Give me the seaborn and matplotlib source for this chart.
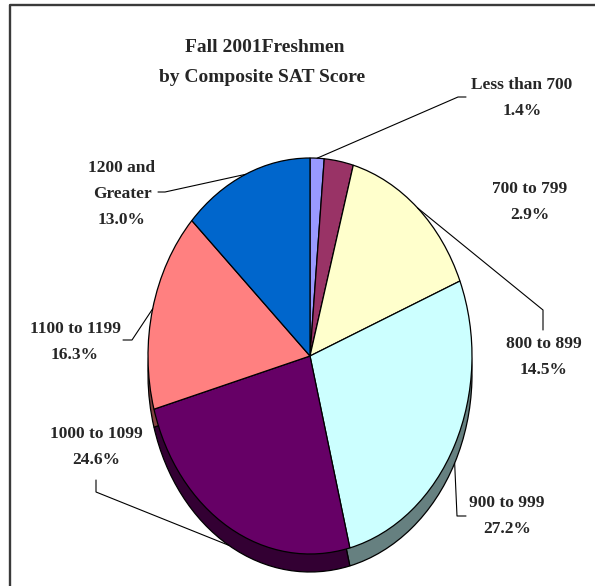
import numpy as np
import matplotlib
matplotlib.use("Agg")
import matplotlib.pyplot as plt
import seaborn as sns

# ---- data ----
categories = ["Less than 700", "700 to 799", "800 to 899", "900 to 999",
              "1000 to 1099", "1100 to 1199", "1200 and\nGreater"]
percentages = [1.4, 2.9, 14.5, 27.2, 24.6, 16.3, 13.0]
top_colors = ["#9999FF", "#993366", "#FFFFCC", "#CCFFFF", "#660066", "#FF8080", "#0066CC"]
side_colors = ["#4D4D80", "#4D1A33", "#808066", "#668080", "#330033", "#804040", "#003366"]
title_lines = ["Fall 2001Freshmen", "by Composite SAT Score"]

sns.set_theme(style="white")
plt.rcParams['font.family'] = ['Liberation Serif', 'DejaVu Serif']

W, H = 595, 586
fig = plt.figure(figsize=(W / 100, H / 100), dpi=100)
fig.patch.set_facecolor('white')

# pie axes: unit circle mapped onto an ellipse (perspective look)
cx, cy, rx, ry = 310, 356, 162, 198
xl, yl = (-1.25, 1.25), (-1.4, 1.25)
left = cx + xl[0] * rx
right = cx + xl[1] * rx
top = cy - yl[1] * ry
bottom = cy - yl[0] * ry
ax = fig.add_axes([left / W, (H - bottom) / H, (right - left) / W, (bottom - top) / H])
depth = 18 / ry
wp = dict(edgecolor='black', linewidth=0.9)
ax.pie(percentages, colors=side_colors, startangle=90, counterclock=False,
       center=(0, -depth), radius=1, wedgeprops=wp)
ax.pie(percentages, colors=top_colors, startangle=90, counterclock=False,
       center=(0, 0), radius=1, wedgeprops=wp)
ax.set_xlim(*xl)
ax.set_ylim(*yl)
ax.set_aspect('auto')
ax.axis('off')

# overlay axes in pixel coordinates (top-left origin)
ov = fig.add_axes([0, 0, 1, 1], zorder=5)
ov.set_xlim(0, W)
ov.set_ylim(H, 0)
ov.axis('off')
ov.patch.set_alpha(0)

def to_px(x, y):
    dx, dy = ax.transData.transform((x, y))
    return dx, H - dy

total = sum(percentages)
cum = np.cumsum([0] + percentages[:-1])
mids = [(c + p / 2) / total for c, p in zip(cum, percentages)]

def edge_point(i, side=False):
    ang = np.deg2rad(90 - 360 * mids[i])
    return to_px(np.cos(ang), np.sin(ang) - (depth if side else 0))

# frame
ov.plot([10, 10, W + 5], [H + 5, 5, 5], color='#3a3a3a', lw=1.7, solid_capstyle='butt')

# title
ov.text(265, 47, title_lines[0], ha='center', va='center', fontsize=14, fontweight='bold')
ov.text(262, 78, title_lines[1], ha='center', va='center', fontsize=14, fontweight='bold')

# labels
label_pos = [(522, 98), (530, 202), (544, 357), (507, 516), (96, 447), (75, 342), (122, 194)]
for i, (cat, pct) in enumerate(zip(categories, percentages)):
    x, y = label_pos[i]
    ov.text(x, y, f"{cat}\n{pct:.1f}%", ha='center', va='center', multialignment='center',
            fontsize=12.5, fontweight='bold', linespacing=1.85)

# leader lines
leaders = {
    0: ([(466, 97), (458, 97)], False),
    2: ([(543, 330), (543, 310)], False),
    3: ([(466, 516), (457, 516)], True),
    4: ([(96, 480), (96, 492)], True),
    5: ([(123, 340), (132, 340)], False),
    6: ([(158, 192), (165, 192)], False),
}
for i, (pts, side) in leaders.items():
    ex, ey = edge_point(i, side)
    xs = [p[0] for p in pts] + [ex]
    ys = [p[1] for p in pts] + [ey]
    ov.plot(xs, ys, color='black', lw=0.8)

fig.savefig("out.png", dpi=100, facecolor='white')
